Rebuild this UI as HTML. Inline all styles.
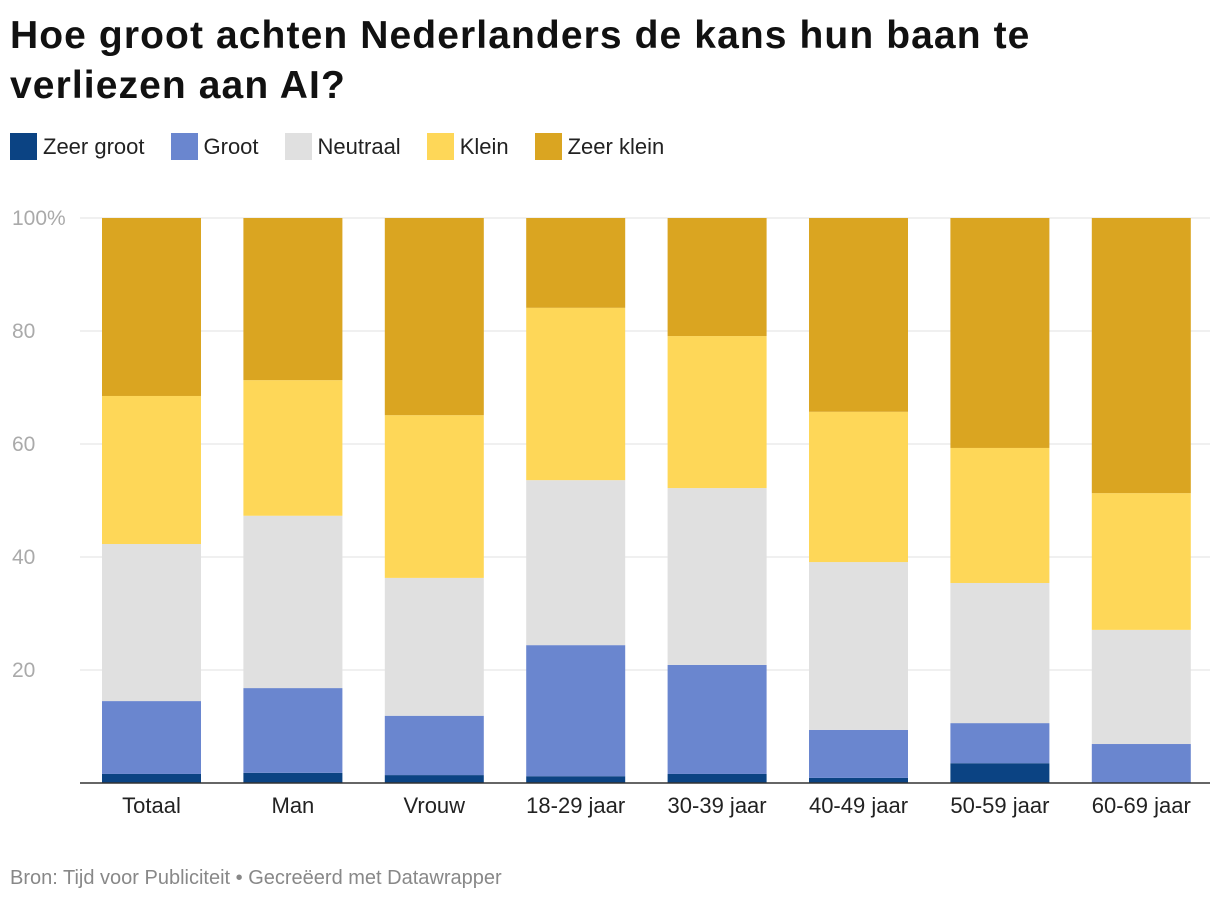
<!DOCTYPE html>
<html><head><meta charset="utf-8"><style>
body{margin:0;background:#fff;font-family:"Liberation Sans",Arial,sans-serif;}
#wrap{position:relative;width:1220px;height:904px;overflow:hidden}
h1{position:absolute;left:10px;top:11px;margin:0;font-size:39px;line-height:50px;font-weight:bold;color:#111;letter-spacing:1.1px}
.leg{position:absolute;top:133px;left:10px;display:flex;font-size:22px;color:#222}
.li{display:flex;align-items:center;margin-right:26px}
.sw{width:27px;height:27px;margin-right:6px}
#foot{position:absolute;left:10px;top:867px;font-size:20px;color:#888}
</style></head><body><div id="wrap">
<h1>Hoe groot achten Nederlanders de kans hun baan te<br>verliezen aan AI?</h1>
<div class="leg">
<div class="li"><div class="sw" style="background:#0b4383"></div>Zeer groot</div>
<div class="li"><div class="sw" style="background:#6a86cf"></div>Groot</div>
<div class="li"><div class="sw" style="background:#e0e0e0"></div>Neutraal</div>
<div class="li"><div class="sw" style="background:#fed758"></div>Klein</div>
<div class="li"><div class="sw" style="background:#daa521"></div>Zeer klein</div>
</div>
<svg id="svg" width="1220" height="904" style="position:absolute;left:0;top:0"></svg>
<div id="foot">Bron: Tijd voor Publiciteit • Gecreëerd met Datawrapper</div>
</div>
<script>
const categories=["Totaal","Man","Vrouw","18-29 jaar","30-39 jaar","40-49 jaar","50-59 jaar","60-69 jaar"];
const zeerGroot=[1.6,1.8,1.4,1.2,1.6,0.9,3.5,0];
const groot=[12.9,15.0,10.5,23.2,19.3,8.5,7.1,6.9];
const neutraal=[27.8,30.5,24.4,29.2,31.3,29.7,24.8,20.2];
const klein=[26.2,24.0,28.8,30.5,26.9,26.6,23.9,24.2];
const zeerKlein=[31.5,28.7,34.9,15.9,20.9,34.3,40.7,48.7];
const ticks=[0,20,40,60,80,100];
const tickLabels=["","20","40","60","80","100%"];
const series=[zeerGroot,groot,neutraal,klein,zeerKlein];
const colors=["#0b4383","#6a86cf","#e0e0e0","#fed758","#daa521"];
const sNames=["zeer-groot","groot","neutraal","klein","zeer-klein"];
const NS="http://www.w3.org/2000/svg",svg=document.getElementById("svg");
const y=v=>783-v*5.65, x=i=>102+i*141.4, bw=99;
function mk(t,a){const e=document.createElementNS(NS,t);for(const k in a)e.setAttribute(k,a[k]);svg.appendChild(e);return e;}
ticks.forEach((t,i)=>{
 const l=mk("line",{x1:80,x2:1210,y1:y(t),y2:y(t),stroke:i==0?"#333":"#e2e2e2","stroke-width":1});
 
 
 const tx=mk("text",{x:12,y:y(t)+7,"font-size":21,fill:"#aaa","font-family":"Liberation Sans"});tx.textContent=tickLabels[i];
 
 
});
categories.forEach((c,i)=>{
 let cum=0;
 series.forEach((s,j)=>{
  const v=s[i]; if(v<=0){return;}
  const r=mk("rect",{x:x(i),width:bw,y:y(cum+v),height:v*5.65,fill:colors[j]});
  
  
  cum+=v;
 });
 const tx=mk("text",{x:x(i)+bw/2,y:813,"font-size":22,fill:"#222","text-anchor":"middle","font-family":"Liberation Sans"});tx.textContent=c;
 
 
});
mk("line",{x1:80,x2:1210,y1:783,y2:783,stroke:"#333","stroke-width":1.5});
</script></body></html>
